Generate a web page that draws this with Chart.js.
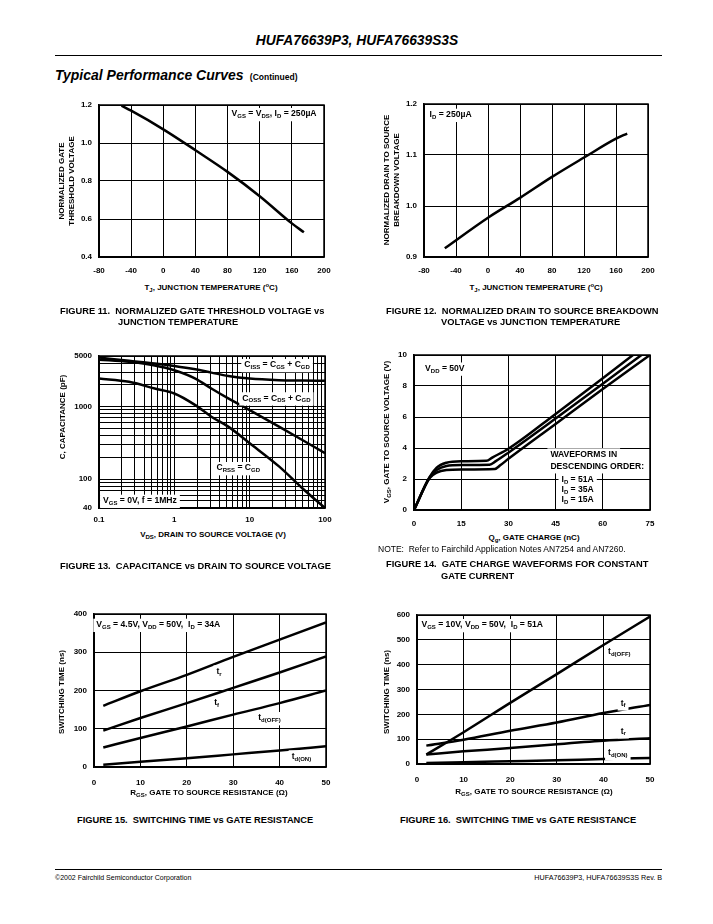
<!DOCTYPE html>
<html>
<head>
<meta charset="utf-8">
<script src="https://cdn.jsdelivr.net/npm/chart.js@4.4.1/dist/chart.umd.min.js"></script>
<style>
  body { margin: 0; background: #fff; }
  #page { position: relative; width: 713px; height: 924px; font-family: "Liberation Sans", Arial, sans-serif; color: #000; overflow: hidden; }
  #page canvas { position: absolute; }
  .t { position: absolute; white-space: nowrap; font-weight: bold; font-size: 8px; line-height: 10px; }
  .t sub { font-size: 6px; vertical-align: -2px; line-height: 0; }
  .t sup { font-size: 6px; vertical-align: 3px; line-height: 0; }
  .yt { transform: translate(-50%, -50%) rotate(-90deg); text-align: center; }
  .xt { transform: translate(-50%, -50%); }
  .cap { font-size: 9.3px; }
  .rule { position: absolute; left: 55px; width: 607px; border-top: 1px solid #000; }
</style>
</head>
<body>
<div id="page">
  <div class="t" style="left:357px;top:41px;transform:translate(-50%,-50%);font-size:13.8px;line-height:16px;font-style:italic;">HUFA76639P3, HUFA76639S3S</div>
  <div class="rule" style="top:55px;"></div>
  <div class="t" style="left:55px;top:67px;font-size:14px;line-height:16px;font-style:italic;">Typical Performance Curves <span style="font-size:8.5px;font-style:normal;">&nbsp;(Continued)</span></div>

  <canvas id="c11"></canvas>
  <canvas id="c12"></canvas>
  <canvas id="c13"></canvas>
  <canvas id="c14"></canvas>
  <canvas id="c15"></canvas>
  <canvas id="c16"></canvas>

  <!-- axis titles -->
  <div class="t yt" style="left:67px;top:181px;">NORMALIZED GATE<br>THRESHOLD VOLTAGE</div>
  <div class="t xt" style="left:211px;top:288px;">T<sub>J</sub>, JUNCTION TEMPERATURE (<sup>o</sup>C)</div>
  <div class="t yt" style="left:392px;top:180px;">NORMALIZED DRAIN TO SOURCE<br>BREAKDOWN VOLTAGE</div>
  <div class="t xt" style="left:536px;top:288px;">T<sub>J</sub>, JUNCTION TEMPERATURE (<sup>o</sup>C)</div>
  <div class="t yt" style="left:63px;top:417px;">C, CAPACITANCE (pF)</div>
  <div class="t xt" style="left:213px;top:535px;">V<sub>DS</sub>, DRAIN TO SOURCE VOLTAGE (V)</div>
  <div class="t yt" style="left:387px;top:432px;">V<sub>GS</sub>, GATE TO SOURCE VOLTAGE (V)</div>
  <div class="t xt" style="left:534px;top:538px;">Q<sub>g</sub>, GATE CHARGE (nC)</div>
  <div class="t yt" style="left:62px;top:692px;">SWITCHING TIME (ns)</div>
  <div class="t xt" style="left:209px;top:793px;">R<sub>GS</sub>, GATE TO SOURCE RESISTANCE (&Omega;)</div>
  <div class="t yt" style="left:387px;top:692px;">SWITCHING TIME (ns)</div>
  <div class="t xt" style="left:534px;top:792px;">R<sub>GS</sub>, GATE TO SOURCE RESISTANCE (&Omega;)</div>

  <!-- captions -->
  <div class="t cap" style="left:60px;top:306px;">FIGURE 11. &nbsp;NORMALIZED GATE THRESHOLD VOLTAGE vs</div>
  <div class="t cap" style="left:118px;top:317px;">JUNCTION TEMPERATURE</div>
  <div class="t cap" style="left:386px;top:306px;">FIGURE 12. &nbsp;NORMALIZED DRAIN TO SOURCE BREAKDOWN</div>
  <div class="t cap" style="left:441px;top:317px;">VOLTAGE vs JUNCTION TEMPERATURE</div>
  <div class="t cap" style="left:60px;top:561px;">FIGURE 13. &nbsp;CAPACITANCE vs DRAIN TO SOURCE VOLTAGE</div>
  <div class="t" style="left:378px;top:544px;font-size:8.5px;font-weight:normal;">NOTE: &nbsp;Refer to Fairchild Application Notes AN7254 and AN7260.</div>
  <div class="t cap" style="left:386px;top:559px;">FIGURE 14. &nbsp;GATE CHARGE WAVEFORMS FOR CONSTANT</div>
  <div class="t cap" style="left:441px;top:571px;">GATE CURRENT</div>
  <div class="t cap" style="left:77px;top:815px;">FIGURE 15. &nbsp;SWITCHING TIME vs GATE RESISTANCE</div>
  <div class="t cap" style="left:400px;top:815px;">FIGURE 16. &nbsp;SWITCHING TIME vs GATE RESISTANCE</div>

  <div class="rule" style="top:869px;"></div>
  <div class="t" style="left:55px;top:873px;font-size:7px;font-weight:normal;">&copy;2002 Fairchild Semiconductor Corporation</div>
  <div class="t" style="right:51px;top:873px;font-size:7.2px;font-weight:normal;">HUFA76639P3, HUFA76639S3S Rev. B</div>
</div>

<script>
// Fig 11 - normalized gate threshold voltage vs junction temperature
const fig11Temp = [-52, -40, 0, 40, 80, 120, 160, 175];
const fig11Vth = [1.196, 1.17, 1.072, 0.962, 0.848, 0.72, 0.577, 0.53];
const fig11XTicks = [-80, -40, 0, 40, 80, 120, 160, 200];
const fig11YTicks = [0.4, 0.6, 0.8, 1.0, 1.2];

// Fig 12 - normalized breakdown voltage vs junction temperature
const fig12Temp = [-54, 0, 40, 80, 120, 160, 174];
const fig12Bv = [0.917, 0.977, 1.016, 1.057, 1.095, 1.132, 1.142];
const fig12XTicks = [-80, -40, 0, 40, 80, 120, 160, 200];
const fig12YTicks = [0.9, 1.0, 1.1, 1.2];

// Fig 13 - capacitance vs drain to source voltage (log-log)
const capVds = [0.1, 0.25, 0.55, 1, 1.9, 3.1, 5.2, 10, 24.5, 50, 100];
const capCiss = [4750, 4300, 3950, 3650, 3280, 2950, 2650, 2440, 2320, 2290, 2270];
const capCoss = [4450, 4150, 3700, 3180, 2440, 1780, 1300, 897, 530, 347, 228];
const capCrss = [2440, 2200, 1780, 1520, 1050, 727, 530, 313, 150, 75, 40];
const capXGrid = [0.1, 0.2, 0.3, 0.4, 0.5, 0.6, 0.7, 0.8, 0.9, 1, 2, 3, 4, 5, 6, 7, 8, 9, 10, 20, 30, 40, 50, 60, 70, 80, 90, 100];
const capYGrid = [40, 50, 60, 70, 80, 90, 100, 200, 300, 400, 500, 600, 700, 800, 900, 1000, 2000, 3000, 4000, 5000];
const capXLabels = [0.1, 1, 10, 100];
const capYLabels = [40, 100, 1000, 5000];

// Fig 14 - gate charge waveforms
const qg51 = [0, 4.9, 7.2, 10.3, 15, 23, 25, 30, 45, 60, 69.6];
const vgs51 = [0, 2.1, 2.73, 3.05, 3.15, 3.17, 3.4, 3.95, 6.2, 8.5, 10];
const qg35 = [0, 4.9, 7.2, 10.3, 15, 24, 26, 30, 45, 60, 72.3];
const vgs35 = [0, 2.08, 2.58, 2.84, 2.9, 2.92, 3.15, 3.7, 5.9, 8.15, 10];
const qg15 = [0, 4.9, 7.2, 10.3, 15, 25.7, 27.5, 30, 45, 60, 75];
const vgs15 = [0, 2.05, 2.41, 2.58, 2.62, 2.65, 2.9, 3.3, 5.55, 7.8, 10];
const gateXTicks = [0, 15, 30, 45, 60, 75];
const gateYTicks = [0, 2, 4, 6, 8, 10];

// Fig 15 - switching time vs gate resistance, VGS = 4.5V
const rgs = [2, 10, 20, 30, 40, 50];
const sw45Tr = [160, 198, 241, 288, 333, 378];
const sw45Tf = [95, 128, 167, 207, 247, 289];
const sw45TdOff = [51, 76, 106, 137, 167, 200];
const sw45TdOn = [6, 14, 23, 33, 43, 54];
const sw45YTicks = [0, 100, 200, 300, 400];

// Fig 16 - switching time vs gate resistance, VGS = 10V
const sw10TdOff = [38, 128, 246, 362, 479, 594];
const sw10Tf = [74, 98, 134, 167, 205, 238];
const sw10Tr = [38, 51, 64, 80, 94, 104];
const sw10TdOn = [4, 7, 11, 15, 20, 24];
const sw10YTicks = [0, 100, 200, 300, 400, 500, 600];
const rgsTicks = [0, 10, 20, 30, 40, 50];

const FONT = '"Liberation Sans", Arial, sans-serif';
const PAD = { l: 40, t: 10, r: 16, b: 22 };

function pts(xs, ys) {
  return xs.map((x, i) => ({ x: x, y: ys[i] }));
}

function parseRich(s) {
  const parts = [];
  const re = /_\{([^}]*)\}/g;
  let last = 0, m;
  while ((m = re.exec(s))) {
    if (m.index > last) parts.push([s.slice(last, m.index), false]);
    parts.push([m[1], true]);
    last = re.lastIndex;
  }
  if (last < s.length) parts.push([s.slice(last), false]);
  return parts;
}

function drawRich(ctx, x, y, text, size, bg) {
  const parts = parseRich(text);
  const mainF = 'bold ' + size + 'px ' + FONT;
  const subF = 'bold ' + Math.round(size * 0.75) + 'px ' + FONT;
  let w = 0;
  parts.forEach(p => { ctx.font = p[1] ? subF : mainF; w += ctx.measureText(p[0]).width; });
  if (bg) {
    ctx.fillStyle = '#fff';
    ctx.fillRect(x - 3, y - size * 0.7, w + 6, size * 1.55);
  }
  ctx.fillStyle = '#000';
  ctx.textBaseline = 'middle';
  ctx.textAlign = 'left';
  let cx = x;
  parts.forEach(p => {
    ctx.font = p[1] ? subF : mainF;
    ctx.fillText(p[0], cx, p[1] ? y + size * 0.3 : y);
    cx += ctx.measureText(p[0]).width;
  });
}

const notesPlugin = {
  id: 'notes',
  afterDatasetsDraw(chart, args, opts) {
    const ctx = chart.ctx, a = chart.chartArea;
    ctx.save();
    ctx.strokeStyle = '#000';
    ctx.lineWidth = 1.5;
    ctx.strokeRect(a.left, a.top, a.width, a.height);
    (opts.items || []).forEach(n => {
      drawRich(ctx, a.left + n.fx * a.width, a.top + n.fy * a.height, n.text, 8.6, n.bg !== false);
    });
    ctx.restore();
  }
};

function axis(type, tickVals, fmt, pad, isX) {
  return {
    type: type,
    min: tickVals[0],
    max: tickVals[tickVals.length - 1],
    afterBuildTicks: s => { s.ticks = tickVals.map(v => ({ value: v })); },
    afterFit: s => {
      if (isX) s.height = PAD.b; else s.width = PAD.l;
      s.paddingLeft = s.paddingRight = s.paddingTop = s.paddingBottom = 0;
    },
    grid: { color: '#000', lineWidth: 1, drawTicks: false },
    border: { color: '#000', width: 1.5 },
    ticks: { color: '#000', font: { family: FONT, size: 8, weight: 'bold' }, padding: pad,
             maxRotation: 0, autoSkip: false, callback: fmt }
  };
}

function line(data) {
  return { data: data, borderColor: '#000', borderWidth: 2.5, pointRadius: 0,
           showLine: true, cubicInterpolationMode: 'monotone', fill: false };
}

function makeChart(id, area, xAxis, yAxis, datasets, notes) {
  const cv = document.getElementById(id);
  const w = area.r - area.l + PAD.l + PAD.r;
  const h = area.b - area.t + PAD.t + PAD.b;
  cv.width = w; cv.height = h;
  cv.style.width = w + 'px'; cv.style.height = h + 'px';
  cv.style.left = (area.l - PAD.l) + 'px';
  cv.style.top = (area.t - PAD.t) + 'px';
  return new Chart(cv, {
    type: 'scatter',
    data: { datasets: datasets },
    options: {
      responsive: false,
      animation: false,
      layout: { padding: { left: 0, top: PAD.t, right: PAD.r, bottom: 0 } },
      scales: { x: xAxis, y: yAxis },
      plugins: { legend: { display: false }, tooltip: { enabled: false }, notes: { items: notes } }
    },
    plugins: [notesPlugin]
  });
}

const fix1 = v => v.toFixed(1);
const plain = v => String(v);
const logLabel = list => v => list.some(t => Math.abs(v / t - 1) < 1e-6) ? String(v) : '';

makeChart('c11', { l: 99, t: 105, r: 324, b: 257 },
  axis('linear', fig11XTicks, plain, 9, true),
  axis('linear', fig11YTicks, fix1, 7, false),
  [line(pts(fig11Temp, fig11Vth))],
  [{ text: 'V_{GS} = V_{DS}, I_{D} = 250µA', fx: 0.589, fy: 0.059 }]);

makeChart('c12', { l: 424, t: 104, r: 648, b: 257 },
  axis('linear', fig12XTicks, plain, 9, true),
  axis('linear', fig12YTicks, fix1, 7, false),
  [line(pts(fig12Temp, fig12Bv))],
  [{ text: 'I_{D} = 250µA', fx: 0.025, fy: 0.07 }]);

makeChart('c13', { l: 99, t: 356, r: 325, b: 508 },
  axis('logarithmic', capXGrid, logLabel(capXLabels), 7, true),
  axis('logarithmic', capYGrid, logLabel(capYLabels), 7, false),
  [line(pts(capVds, capCiss)), line(pts(capVds, capCoss)), line(pts(capVds, capCrss))],
  [{ text: 'C_{ISS} = C_{GS} + C_{GD}', fx: 0.643, fy: 0.059 },
   { text: 'C_{OSS} = C_{DS} + C_{GD}', fx: 0.634, fy: 0.278 },
   { text: 'C_{RSS} = C_{GD}', fx: 0.52, fy: 0.737 },
   { text: 'V_{GS} = 0V, f = 1MHz', fx: 0.018, fy: 0.952 }]);

makeChart('c14', { l: 414, t: 355, r: 650, b: 510 },
  axis('linear', gateXTicks, plain, 9, true),
  axis('linear', gateYTicks, plain, 7, false),
  [line(pts(qg51, vgs51)), line(pts(qg35, vgs35)), line(pts(qg15, vgs15))],
  [{ text: 'V_{DD} = 50V', fx: 0.047, fy: 0.087 },
   { text: 'WAVEFORMS IN', fx: 0.578, fy: 0.641 },
   { text: 'DESCENDING ORDER:', fx: 0.578, fy: 0.717 },
   { text: 'I_{D} = 51A', fx: 0.625, fy: 0.804 },
   { text: 'I_{D} = 35A', fx: 0.625, fy: 0.87 },
   { text: 'I_{D} = 15A', fx: 0.625, fy: 0.935 }]);

makeChart('c15', { l: 94, t: 614, r: 326, b: 767 },
  axis('linear', rgsTicks, plain, 11, true),
  axis('linear', sw45YTicks, plain, 7, false),
  [line(pts(rgs, sw45Tr)), line(pts(rgs, sw45Tf)), line(pts(rgs, sw45TdOff)), line(pts(rgs, sw45TdOn))],
  [{ text: 'V_{GS} = 4.5V, V_{DD} = 50V,  I_{D} = 34A', fx: 0.01, fy: 0.07 },
   { text: 't_{r}', fx: 0.528, fy: 0.375 },
   { text: 't_{f}', fx: 0.518, fy: 0.582 },
   { text: 't_{d(OFF)}', fx: 0.708, fy: 0.68 },
   { text: 't_{d(ON)}', fx: 0.852, fy: 0.93 }]);

makeChart('c16', { l: 417, t: 615, r: 650, b: 764 },
  axis('linear', rgsTicks, plain, 11, true),
  axis('linear', sw10YTicks, plain, 7, false),
  [line(pts(rgs, sw10TdOff)), line(pts(rgs, sw10Tf)), line(pts(rgs, sw10Tr)), line(pts(rgs, sw10TdOn))],
  [{ text: 'V_{GS} = 10V, V_{DD} = 50V,  I_{D} = 51A', fx: 0.019, fy: 0.067 },
   { text: 't_{d(OFF)}', fx: 0.82, fy: 0.246 },
   { text: 't_{f}', fx: 0.874, fy: 0.592 },
   { text: 't_{r}', fx: 0.874, fy: 0.78 },
   { text: 't_{d(ON)}', fx: 0.82, fy: 0.926 }]);
</script>
</body>
</html>
